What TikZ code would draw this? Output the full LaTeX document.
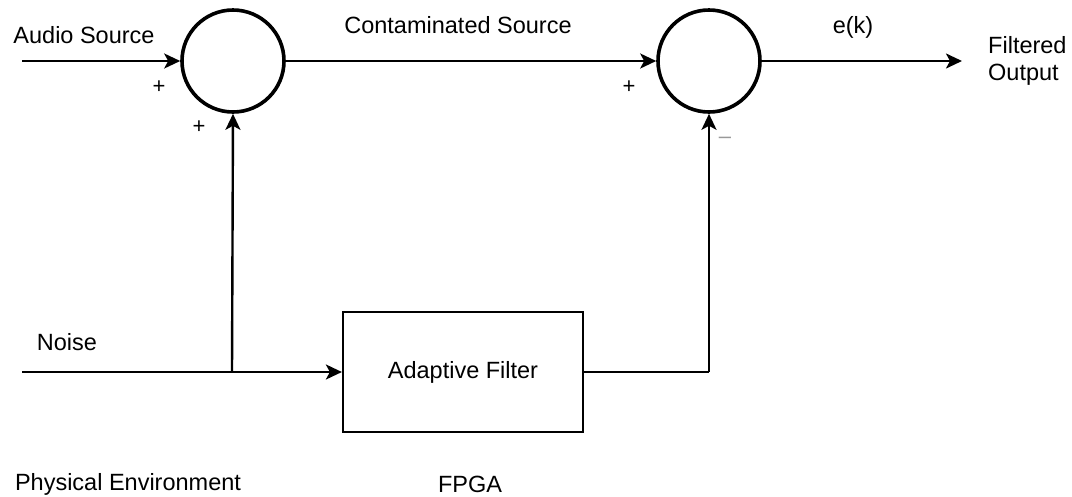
\documentclass[tikz,border=0pt]{standalone}
\usepackage{fontspec}
\setmainfont{Liberation Sans}
\usetikzlibrary{arrows.meta}
\begin{document}
\begin{tikzpicture}[x=1pt,y=-1pt,
  every node/.style={font=\fontsize{23.5}{27}\selectfont, inner sep=0pt},
  sum/.style={circle, draw, line width=3.6pt, minimum size=102pt},
  blockbox/.style={draw, line width=2.2pt, minimum width=240pt, minimum height=120pt},
  conn/.style={line width=2.4pt, -{Stealth[length=16pt,width=15pt,inset=4pt]}},
  plain/.style={line width=2.4pt},
  sign/.style={font=\fontsize{22}{24}\selectfont}]
\useasboundingbox (0,0) rectangle (1072,496);
\node[sum] (s1) at (233,61) {};
\node[sum] (s2) at (709,61) {};
\node[blockbox] (af) at (463,372) {Adaptive Filter};
\coordinate (ain) at (22,61);
\coordinate (nin) at (22,372);
\coordinate (j) at (232,372);
\coordinate (out) at (962,61);
\coordinate (c2) at (709,372);
\draw[conn] (ain) -- (s1.west);
\draw[conn] (s1.east) -- (s2.west);
\draw[conn] (s2.east) -- (out);
\draw[conn] (nin) -- (af.west);
\draw[conn] (j) -- (s1.south);
\draw[plain] (af.east) -- (c2);
\draw[conn] (c2) -- (s2.south);
\node (t1) at (84,35) {Audio Source};
\node (t2) at (458,25) {Contaminated Source};
\node (t3) at (853,27) {e(k)};
\node[align=left, anchor=west] (t4) at (988,61) {Filtered\\Output};
\node (t5) at (67,342) {Noise};
\node (t6) at (128,484) {Physical Environment};
\node (t7) at (470,484) {FPGA};
\node[sign] (p1) at (159,87) {+};
\node[sign] (p2) at (199,127) {+};
\node[sign] (p3) at (629,87) {+};
\node[sign, text=black!40] (m1) at (725,140) {–};
\end{tikzpicture}
\end{document}
